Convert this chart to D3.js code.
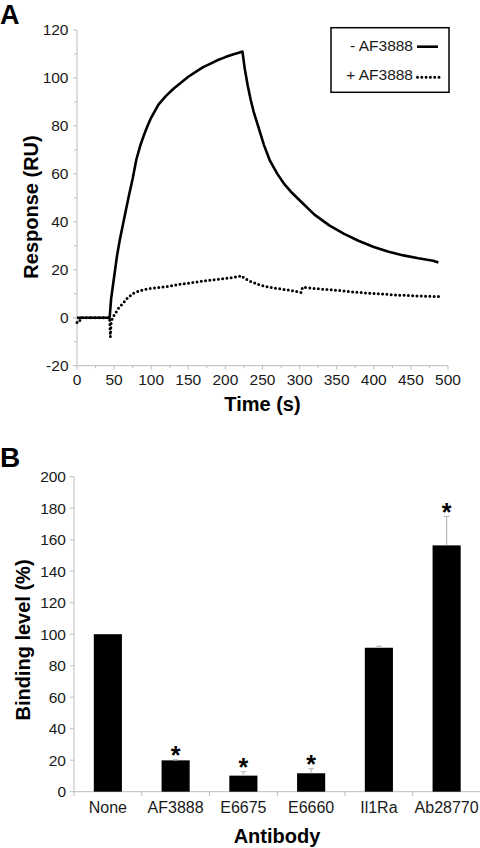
<!DOCTYPE html>
<html>
<head>
<meta charset="utf-8">
<script src="https://cdn.jsdelivr.net/npm/d3@7"></script>
<style>
  html, body { margin: 0; padding: 0; background: #fff; }
  svg { display: block; font-family: "Liberation Sans", Arial, sans-serif; }
</style>
</head>
<body>
<svg id="chart" width="480" height="848"></svg>
<script>
// ---------- Panel A data ----------
const timeNoAF = [0, 10, 20, 30, 40, 44, 46, 50, 54, 58, 62, 66, 70, 75, 80, 85, 90, 95, 100, 110, 120, 130, 140, 150, 160, 170, 180, 190, 200, 210, 218, 223,
                  226, 230, 234, 238, 244, 252, 260, 270, 280, 290, 300, 320, 340, 360, 380, 400, 420, 440, 460, 480, 487];
const respNoAF = [0, 0, 0, 0, 0, 0, 8, 17, 26, 33, 39, 45, 51, 58, 66, 71.5, 76, 80, 83.5, 89, 92.5, 95.5, 98, 100.5, 102.5, 104.5, 106, 107.5, 108.7, 109.8, 110.5, 111,
                  104, 97, 91, 86, 80, 72, 65.5, 60, 55.5, 52, 49, 43, 38.5, 35, 32, 29.5, 27.5, 26, 24.8, 23.8, 23];
const timeWithAF = [0, 3, 5, 10, 20, 30, 40, 44, 45, 46, 48, 52, 56, 62, 68, 76, 85, 95, 110, 125, 140, 155, 170, 185, 200, 215, 222, 225, 235, 247, 260, 275, 290, 302, 304,
                    320, 340, 355, 370, 390, 410, 430, 450, 470, 488];
const respWithAF = [-2, -2, 0, 0, 0, 0, 0, 0, -8, -2, 0, 2, 4, 6, 8.2, 10.2, 11.3, 12, 12.6, 13.2, 14, 14.6, 15.3, 15.9, 16.4, 17, 17.5, 16.5, 15, 13.6, 12.7, 12, 11.3, 10.5, 12.7,
                    12.2, 11.7, 11.3, 10.8, 10.3, 9.9, 9.5, 9.2, 9, 8.8];
const seriesLabels = ["- AF3888", "+ AF3888"];
const timeTicks = [0, 50, 100, 150, 200, 250, 300, 350, 400, 450, 500];
const respTicks = [-20, 0, 20, 40, 60, 80, 100, 120];

// ---------- Panel B data ----------
const antibodies = ["None", "AF3888", "E6675", "E6660", "Il1Ra", "Ab28770"];
const bindingLevel = [100, 19.9, 10.2, 11.7, 91.4, 156.4];
const bindingErr = [0, 0.4, 2.5, 2.9, 1.0, 18.4];
const significant = [false, true, true, true, false, true];
const bindingTicks = [0, 20, 40, 60, 80, 100, 120, 140, 160, 180, 200];

const svg = d3.select("#chart");
const axisGray = "#bdbdbd";
const textCol = "#1a1a1a";

// ===================== Panel A =====================
const xA = d3.scaleLinear().domain([0, 500]).range([77, 448]);
const yA = d3.scaleLinear().domain([-20, 120]).range([365.7, 30]);

const gA = svg.append("g");

// y axis
gA.append("line").attr("x1", xA(0)).attr("x2", xA(0)).attr("y1", yA(-20)).attr("y2", yA(120))
  .attr("stroke", axisGray).attr("stroke-width", 1);
d3.range(-20, 121, 10).forEach(v => {
  gA.append("line").attr("x1", xA(0) - (v % 20 === 0 ? 4 : 3)).attr("x2", xA(0))
    .attr("y1", yA(v)).attr("y2", yA(v)).attr("stroke", axisGray);
});
gA.selectAll("text.ytick").data(respTicks).enter().append("text")
  .attr("x", 68.5).attr("y", d => yA(d)).attr("dy", "0.35em")
  .attr("text-anchor", "end").attr("font-size", 15.5).attr("fill", textCol)
  .text(d => d);

// x axis
gA.append("line").attr("x1", xA(0)).attr("x2", xA(500)).attr("y1", yA(-20)).attr("y2", yA(-20))
  .attr("stroke", axisGray);
d3.range(0, 501, 25).forEach(v => {
  gA.append("line").attr("x1", xA(v)).attr("x2", xA(v))
    .attr("y1", yA(-20)).attr("y2", yA(-20) + (v % 50 === 0 ? 4 : 2.5)).attr("stroke", axisGray);
});
gA.selectAll("text.xtick").data(timeTicks).enter().append("text")
  .attr("x", d => xA(d)).attr("y", 385)
  .attr("text-anchor", "middle").attr("font-size", 15.5).attr("fill", textCol)
  .text(d => d);

// axis titles
gA.append("text").attr("x", 262.5).attr("y", 411)
  .attr("text-anchor", "middle").attr("font-size", 20).attr("font-weight", "bold").text("Time (s)");
gA.append("text").attr("transform", `translate(37.5,207) rotate(-90)`)
  .attr("text-anchor", "middle").attr("font-size", 20).attr("font-weight", "bold").text("Response (RU)");

// panel letter
svg.append("text").attr("x", 0).attr("y", 24).attr("font-size", 27).attr("font-weight", "bold").text("A");

// lines
const lineA = d3.line().x(d => xA(d[0])).y(d => yA(d[1]));
gA.append("path").datum(d3.zip(timeNoAF, respNoAF)).attr("d", lineA)
  .attr("fill", "none").attr("stroke", "#000").attr("stroke-width", 2.6).attr("stroke-linejoin", "round");
gA.append("path").datum(d3.zip(timeWithAF, respWithAF)).attr("d", lineA)
  .attr("fill", "none").attr("stroke", "#000").attr("stroke-width", 3)
  .attr("stroke-linecap", "round").attr("stroke-dasharray", "0,4.3");

// legend
const leg = gA.append("g");
leg.append("rect").attr("x", 331).attr("y", 27.7).attr("width", 118).attr("height", 64.6)
  .attr("fill", "#fff").attr("stroke", "#000").attr("stroke-width", 1.5);
leg.append("text").attr("x", 413).attr("y", 50.5).attr("text-anchor", "end").attr("font-size", 15.5).attr("fill", textCol).text(seriesLabels[0]);
leg.append("text").attr("x", 413).attr("y", 79.5).attr("text-anchor", "end").attr("font-size", 15.5).attr("fill", textCol).text(seriesLabels[1]);
leg.append("line").attr("x1", 417).attr("x2", 438).attr("y1", 46.7).attr("y2", 46.7)
  .attr("stroke", "#000").attr("stroke-width", 2.6);
leg.append("line").attr("x1", 417.5).attr("x2", 440).attr("y1", 77.3).attr("y2", 77.3)
  .attr("stroke", "#000").attr("stroke-width", 3).attr("stroke-linecap", "round").attr("stroke-dasharray", "0,4.3");

// ===================== Panel B =====================
const xB = d3.scaleBand().domain(antibodies).range([74, 480.5]).paddingInner(0.585).paddingOuter(0.2925);
const xBand = d3.scaleBand().domain(antibodies).range([74, 480.5]);
const yB = d3.scaleLinear().domain([0, 200]).range([791.7, 476.7]);

const gB = svg.append("g");

// y axis
gB.append("line").attr("x1", 74).attr("x2", 74).attr("y1", yB(0)).attr("y2", yB(200)).attr("stroke", axisGray);
bindingTicks.forEach(v => {
  gB.append("line").attr("x1", 70).attr("x2", 74).attr("y1", yB(v)).attr("y2", yB(v)).attr("stroke", axisGray);
});
gB.selectAll("text.ytick").data(bindingTicks).enter().append("text")
  .attr("x", 66).attr("y", d => yB(d)).attr("dy", "0.35em")
  .attr("text-anchor", "end").attr("font-size", 15.5).attr("fill", textCol).text(d => d);

// x axis
gB.append("line").attr("x1", 74).attr("x2", 480.5).attr("y1", yB(0)).attr("y2", yB(0)).attr("stroke", axisGray);
const bounds = antibodies.map(a => xBand(a)).concat([480.5]);
bounds.forEach(b => {
  gB.append("line").attr("x1", b).attr("x2", b).attr("y1", yB(0)).attr("y2", yB(0) + 4.5).attr("stroke", axisGray);
});
gB.selectAll("text.xtick").data(antibodies).enter().append("text")
  .attr("x", d => xBand(d) + xBand.bandwidth() / 2).attr("y", 813.3)
  .attr("text-anchor", "middle").attr("font-size", 16).attr("fill", textCol).text(d => d);

// bars
gB.selectAll("rect.bar").data(antibodies).enter().append("rect")
  .attr("x", d => xB(d)).attr("width", xB.bandwidth())
  .attr("y", (d, i) => yB(bindingLevel[i])).attr("height", (d, i) => yB(0) - yB(bindingLevel[i]))
  .attr("fill", "#000");

// error bars
antibodies.forEach((a, i) => {
  if (bindingErr[i] <= 0) return;
  const cx = xB(a) + xB.bandwidth() / 2;
  gB.append("line").attr("x1", cx).attr("x2", cx)
    .attr("y1", yB(bindingLevel[i])).attr("y2", yB(bindingLevel[i] + bindingErr[i]))
    .attr("stroke", "#bbb").attr("stroke-width", 1.2);
  gB.append("line").attr("x1", cx - 2.7).attr("x2", cx + 2.7)
    .attr("y1", yB(bindingLevel[i] + bindingErr[i])).attr("y2", yB(bindingLevel[i] + bindingErr[i]))
    .attr("stroke", "#bbb").attr("stroke-width", 1.2);
});

// asterisks
const starFs = 25;
antibodies.forEach((a, i) => {
  if (!significant[i]) return;
  const cx = xB(a) + xB.bandwidth() / 2;
  const top = yB(bindingLevel[i] + bindingErr[i]);
  gB.append("text").attr("x", cx).attr("y", top - 10 + 0.57 * starFs)
    .attr("text-anchor", "middle").attr("font-size", starFs).attr("font-weight", "bold").text("*");
});

// titles
gB.append("text").attr("x", 277).attr("y", 842.7)
  .attr("text-anchor", "middle").attr("font-size", 20).attr("font-weight", "bold").text("Antibody");
gB.append("text").attr("transform", `translate(29.5,640) rotate(-90)`)
  .attr("text-anchor", "middle").attr("font-size", 20).attr("font-weight", "bold").text("Binding level (%)");

svg.append("text").attr("x", 0).attr("y", 467).attr("font-size", 28).attr("font-weight", "bold").text("B");
</script>
</body>
</html>
